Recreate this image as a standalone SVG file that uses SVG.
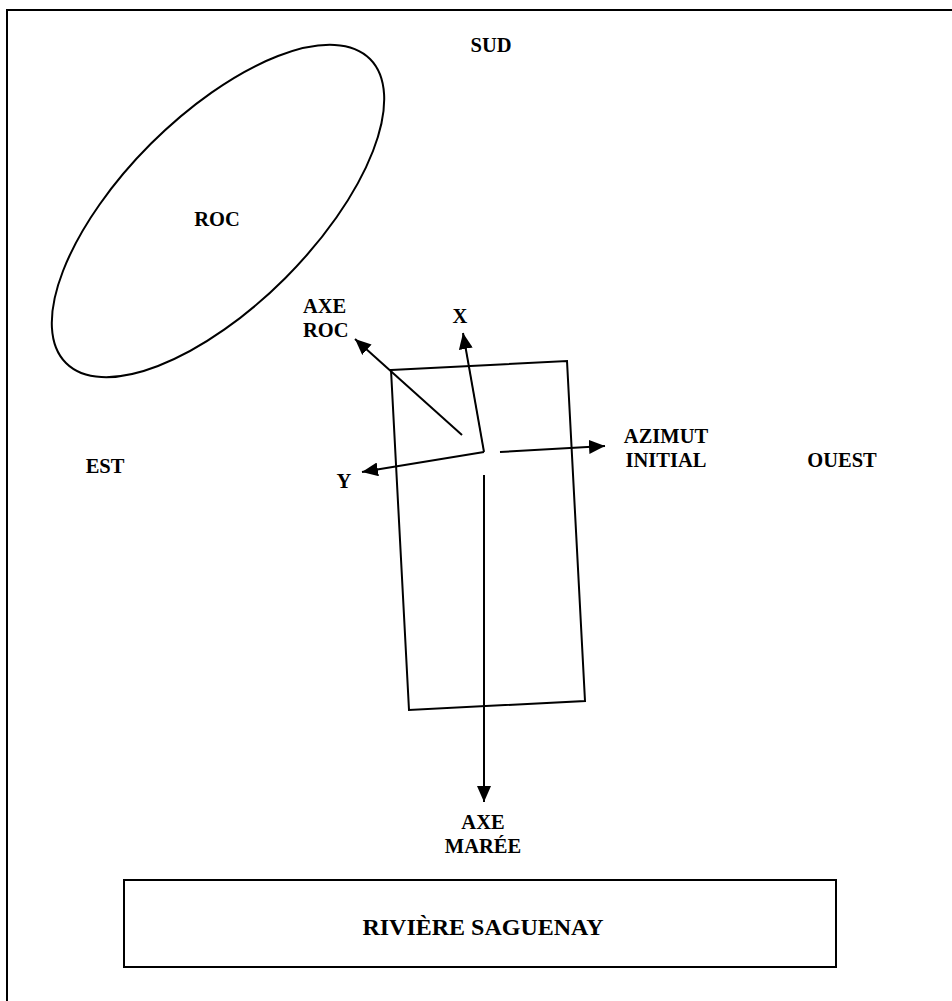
<svg xmlns="http://www.w3.org/2000/svg" width="952" height="1001" viewBox="0 0 952 1001">
<style>
.t{font-family:"Liberation Serif","Times New Roman",serif;font-weight:bold;font-size:20.5px;fill:#000;text-anchor:middle}
.tl{text-anchor:start}
.big{font-size:24px}
.s{fill:none;stroke:#000;stroke-width:2}
.c{fill:none;stroke:#000;stroke-width:2;marker-end:url(#ah)}
</style>
<defs>
<marker id="ah" markerUnits="userSpaceOnUse" markerWidth="18" markerHeight="14" refX="16" refY="7" orient="auto">
<path d="M0,0 L16,7 L0,14 Z" fill="#000"/>
</marker>
</defs>
<rect x="0" y="0" width="952" height="1001" fill="#fff"/>
<g id="frame"><rect class="s" x="7" y="10" width="960" height="1010"/></g>
<g id="roc">
<ellipse class="s" cx="218" cy="211" rx="215" ry="95" transform="rotate(-45 218 211)"/>
<text class="t" x="217" y="226">ROC</text>
</g>
<g id="site"><polygon class="s" points="391,370 567,361 585,701 409,710"/></g>
<g id="connectors">
<line class="c" x1="462" y1="435" x2="355" y2="339"/>
<line class="c" x1="484" y1="452" x2="463" y2="333"/>
<line class="c" x1="484" y1="452" x2="362" y2="472"/>
<line class="c" x1="500" y1="452" x2="605" y2="446"/>
<line class="c" x1="484" y1="475" x2="484" y2="802"/>
</g>
<g id="sud"><text class="t" x="491" y="52">SUD</text></g>
<g id="est"><text class="t" x="105" y="473">EST</text></g>
<g id="ouest"><text class="t" x="842" y="467">OUEST</text></g>
<g id="axe-roc"><text class="t tl" x="303" y="313">AXE</text><text class="t tl" x="303" y="337">ROC</text></g>
<g id="x-axis"><text class="t" x="460" y="323">X</text></g>
<g id="y-axis"><text class="t" x="344" y="488">Y</text></g>
<g id="azimut"><text class="t" x="666" y="443">AZIMUT</text><text class="t" x="666" y="467">INITIAL</text></g>
<g id="axe-maree"><text class="t" x="483" y="829">AXE</text><text class="t" x="483" y="853">MARÉE</text></g>
<g id="riviere">
<rect class="s" x="124" y="880" width="712" height="87"/>
<text class="t big" x="483" y="935">RIVIÈRE SAGUENAY</text>
</g>
</svg>
